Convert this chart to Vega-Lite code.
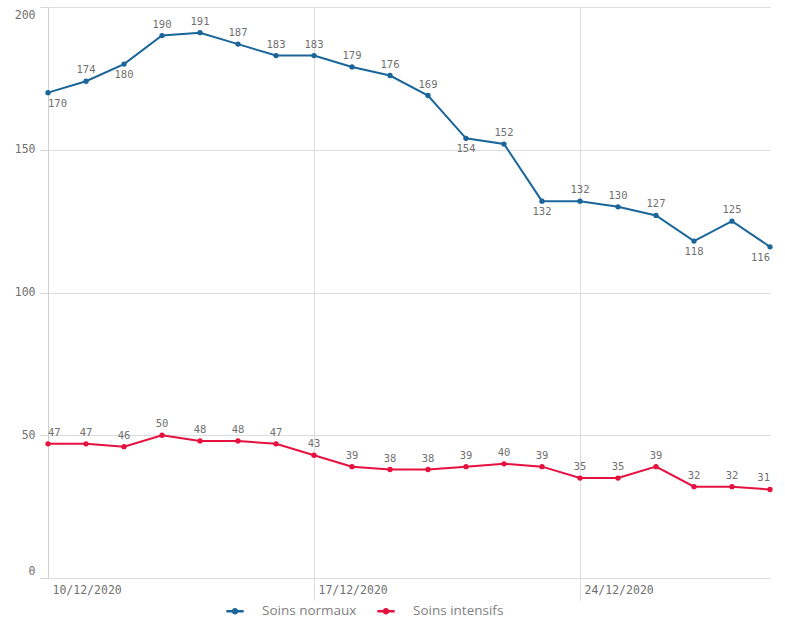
{
  "$schema": "https://vega.github.io/schema/vega-lite/v6.json",
  "width": 722,
  "height": 571,
  "autosize": {"type": "none"},
  "padding": {"left": 48, "top": 7, "right": 15, "bottom": 47},
  "background": "white",
  "config": {
    "view": {"stroke": null},
    "axis": {"labelFont": "DejaVu Sans Mono", "labelColor": "#707070", "gridColor": "#dcdcdc", "domainColor": "#cfcfcf", "tickColor": "#d4d4d4"}
  },
  "data": {
    "values": [
      {"date": "2020-12-10", "series": "Soins normaux", "value": 170},
      {"date": "2020-12-11", "series": "Soins normaux", "value": 174},
      {"date": "2020-12-12", "series": "Soins normaux", "value": 180},
      {"date": "2020-12-13", "series": "Soins normaux", "value": 190},
      {"date": "2020-12-14", "series": "Soins normaux", "value": 191},
      {"date": "2020-12-15", "series": "Soins normaux", "value": 187},
      {"date": "2020-12-16", "series": "Soins normaux", "value": 183},
      {"date": "2020-12-17", "series": "Soins normaux", "value": 183},
      {"date": "2020-12-18", "series": "Soins normaux", "value": 179},
      {"date": "2020-12-19", "series": "Soins normaux", "value": 176},
      {"date": "2020-12-20", "series": "Soins normaux", "value": 169},
      {"date": "2020-12-21", "series": "Soins normaux", "value": 154},
      {"date": "2020-12-22", "series": "Soins normaux", "value": 152},
      {"date": "2020-12-23", "series": "Soins normaux", "value": 132},
      {"date": "2020-12-24", "series": "Soins normaux", "value": 132},
      {"date": "2020-12-25", "series": "Soins normaux", "value": 130},
      {"date": "2020-12-26", "series": "Soins normaux", "value": 127},
      {"date": "2020-12-27", "series": "Soins normaux", "value": 118},
      {"date": "2020-12-28", "series": "Soins normaux", "value": 125},
      {"date": "2020-12-29", "series": "Soins normaux", "value": 116},
      {"date": "2020-12-10", "series": "Soins intensifs", "value": 47},
      {"date": "2020-12-11", "series": "Soins intensifs", "value": 47},
      {"date": "2020-12-12", "series": "Soins intensifs", "value": 46},
      {"date": "2020-12-13", "series": "Soins intensifs", "value": 50},
      {"date": "2020-12-14", "series": "Soins intensifs", "value": 48},
      {"date": "2020-12-15", "series": "Soins intensifs", "value": 48},
      {"date": "2020-12-16", "series": "Soins intensifs", "value": 47},
      {"date": "2020-12-17", "series": "Soins intensifs", "value": 43},
      {"date": "2020-12-18", "series": "Soins intensifs", "value": 39},
      {"date": "2020-12-19", "series": "Soins intensifs", "value": 38},
      {"date": "2020-12-20", "series": "Soins intensifs", "value": 38},
      {"date": "2020-12-21", "series": "Soins intensifs", "value": 39},
      {"date": "2020-12-22", "series": "Soins intensifs", "value": 40},
      {"date": "2020-12-23", "series": "Soins intensifs", "value": 39},
      {"date": "2020-12-24", "series": "Soins intensifs", "value": 35},
      {"date": "2020-12-25", "series": "Soins intensifs", "value": 35},
      {"date": "2020-12-26", "series": "Soins intensifs", "value": 39},
      {"date": "2020-12-27", "series": "Soins intensifs", "value": 32},
      {"date": "2020-12-28", "series": "Soins intensifs", "value": 32},
      {"date": "2020-12-29", "series": "Soins intensifs", "value": 31}
    ]
  },
  "transform": [
    {"window": [{"op": "lag", "field": "value", "as": "prev"}, {"op": "lead", "field": "value", "as": "next"}], "groupby": ["series"], "sort": [{"field": "date"}], "frame": [null, null]},
    {"calculate": "(datum.prev != null && datum.prev - datum.value > 8) || (datum.next != null && datum.next - datum.value > 8) || (datum.prev == null && datum.next > datum.value)", "as": "below"}
  ],
  "encoding": {
    "x": {
      "field": "date", "type": "temporal",
      "scale": {"type": "utc", "domain": [{"year": 2020, "month": 12, "date": 10, "utc": true}, {"year": 2020, "month": 12, "date": 29, "utc": true}]},
      "axis": {
        "title": null,
        "values": [{"year": 2020, "month": 12, "date": 10, "utc": true}, {"year": 2020, "month": 12, "date": 17, "utc": true}, {"year": 2020, "month": 12, "date": 24, "utc": true}],
        "labelExpr": "utcFormat(datum.value, '%d/%m/%Y')",
        "labelAlign": "left", "labelBaseline": "top", "labelOffset": 4, "labelPadding": -16, "labelFontSize": 11.5,
        "tickSize": 22, "domain": false, "grid": true,
        "tickColor": {"condition": {"test": "datum.index == 0", "value": "transparent"}, "value": "#dcdcdc"}
      }
    },
    "y": {
      "field": "value", "type": "quantitative",
      "scale": {"domain": [0, 200], "nice": false},
      "axis": {"title": null, "values": [0, 50, 100, 150, 200], "tickSize": 8, "labelPadding": 5, "labelFontSize": 11.5, "labelFlush": true, "labelFlushOffset": -2, "grid": true, "domain": true}
    },
    "color": {
      "field": "series", "type": "nominal",
      "scale": {"domain": ["Soins normaux", "Soins intensifs"], "range": ["#1a659a", "#e5113f"]},
      "legend": {
        "title": null, "orient": "none", "direction": "horizontal", "legendX": 178, "legendY": 595,
        "symbolType": "M-1,-0.13L-0.3,-0.13L-0.3,0.13L-1,0.13Z M0.3,-0.13L1,-0.13L1,0.13L0.3,0.13Z M-0.38,0A0.38,0.38 0 1,1 0.38,0A0.38,0.38 0 1,1 -0.38,0Z",
        "symbolSize": 300, "symbolStrokeWidth": 0, "labelFont": "Open Sans", "labelFontSize": 13.5, "labelColor": "#808080", "labelOffset": 18, "columnPadding": 20
      }
    }
  },
  "layer": [
    {"mark": {"type": "line", "strokeWidth": 2, "point": {"filled": true, "size": 28}}},
    {
      "mark": {
        "type": "text", "font": "DejaVu Sans Mono", "fontSize": 10.5, "color": "#707070", "baseline": "middle",
        "align": {"expr": "datum.prev == null ? 'left' : (datum.next == null ? 'right' : 'center')"},
        "dy": {"expr": "datum.below ? 11 : -11"}
      },
      "encoding": {"text": {"field": "value", "type": "quantitative"}, "color": {"value": "#707070"}}
    }
  ]
}
